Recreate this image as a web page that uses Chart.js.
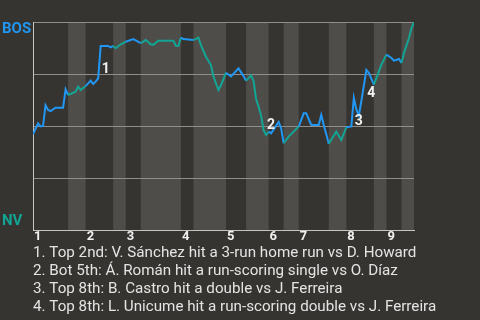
<!DOCTYPE html>
<html>
<head>
<meta charset="utf-8">
<script src="https://cdn.jsdelivr.net/npm/chart.js@4.4.0/dist/chart.umd.min.js"></script>
<style>
  html, body { margin: 0; padding: 0; background: #363430; }
  canvas { display: block; }
</style>
</head>
<body>
<canvas id="wpChart" width="480" height="320"></canvas>
<script>
// play number where each half inning starts: top 1st, bot 1st, top 2nd, ...
var halfInningStart = [0, 14, 21, 32, 37, 43, 59, 64, 77, 85, 94, 100, 106, 118, 125, 136, 141, 147];
var lastPlay = 152;
var inningLabels = ['1', '2', '3', '4', '5', '6', '7', '8', '9'];

// BOS win probability (%) after each play
var playIndex = [0, 2, 3, 4, 5, 6, 7, 9, 12, 13, 14, 17, 18, 19, 21, 23, 24, 25, 26, 27,
  30, 31, 32, 33, 35, 37, 40, 43, 45, 47, 48, 50, 56, 57, 58, 59, 60, 64, 66, 67,
  69, 71, 72, 74, 75, 77, 79, 82, 84, 85, 87, 88, 89, 90, 91, 92, 93, 94, 95, 98,
  99, 100, 102, 104, 106, 108, 109, 111, 114, 115, 116, 117, 118, 121, 123, 125, 127, 128, 129, 130,
  131, 133, 134, 136, 137, 139, 141, 143, 144, 146, 147, 148, 150, 151, 152];
var bosWinPct = [46, 51.3, 49.8, 50, 60, 57.7, 57.2, 58.8, 58.8, 67.6, 64.9, 66.5, 68.9, 67.3, 69.2, 71.8, 70.2, 71.3, 72.9, 88.5,
  88.5, 87.8, 88.5, 87.4, 89.3, 90.5, 91.8, 89.8, 91.3, 89.3, 89, 91, 91, 88.6, 88.5, 92.5, 91.8, 91.3, 92.5, 88.9,
  83.3, 79.3, 73.7, 67.3, 69.7, 75.6, 73.8, 77.7, 74, 71.8, 74.3, 71.6, 63, 59.3, 55, 48, 45.7, 47.3, 46.5, 52,
  48.9, 41.7, 44.9, 47.3, 49.7, 56.1, 56.1, 50.5, 50.5, 55.3, 50.5, 46, 41.5, 47.3, 43.3, 49.4, 49.8, 63.5, 58, 55,
  62, 77, 75.5, 69.9, 73, 79.5, 84.3, 82.7, 81.4, 82.2, 80.3, 85.1, 92.3, 97, 100];

var teamTop = 'BOS';
var teamBottom = 'NV';

// key plays marked on the line
var annotationPlay = [27, 93, 128, 133];
var annotationText = [
  '1. Top 2nd: V. Sánchez hit a 3-run home run vs D. Howard',
  '2. Bot 5th: Á. Román hit a run-scoring single vs O. Díaz',
  '3. Top 8th: B. Castro hit a double vs J. Ferreira',
  '4. Top 8th: L. Unicume hit a run-scoring double vs J. Ferreira'
];

var blue = '#2196f3';
var teal = '#12a594';

function halfOf(play) {
  var h = 0;
  for (var i = 0; i < halfInningStart.length; i++) {
    if (play >= halfInningStart[i]) h = i;
  }
  return h;
}

var inningStart = halfInningStart.filter(function (p, h) { return h % 2 === 0; });

// shaded bands for bottom halves
var bandData = halfInningStart.map(function (p, h) { return {x: p, y: h % 2 ? 100 : 0}; });
bandData.push({x: lastPlay, y: 0});

var lineData = playIndex.map(function (p, i) { return {x: p, y: bosWinPct[i]}; });

var playNumbers = {
  id: 'playNumbers',
  afterLayout: function (chart) {
    // let the play list run past the plot's right edge without squeezing
    chart.titleBlock.right = chart.width;
  },
  afterDatasetsDraw: function (chart) {
    var meta = chart.getDatasetMeta(1);
    var ctx = chart.ctx;
    ctx.save();
    ctx.font = 'bold 14px Roboto';
    ctx.fillStyle = '#f2f2f2';
    ctx.textAlign = 'center';
    ctx.textBaseline = 'middle';
    annotationPlay.forEach(function (play, k) {
      var i = playIndex.indexOf(play);
      var pt = meta.data[i];
      var rising = bosWinPct[i] > bosWinPct[i - 1];
      ctx.fillText(String(k + 1), pt.x + 5, pt.y + (rising ? 24 : -9));
    });
    ctx.restore();
  }
};

new Chart(document.getElementById('wpChart'), {
  type: 'line',
  data: {
    datasets: [{
      data: bandData,
      stepped: 'before',
      fill: 'origin',
      backgroundColor: '#4f4d4a',
      borderColor: 'rgba(0,0,0,0)',
      borderWidth: 0,
      pointRadius: 0
    }, {
      data: lineData,
      borderWidth: 2,
      pointRadius: 0,
      fill: false,
      tension: 0,
      borderColor: blue,
      segment: {
        borderColor: function (ctx) { return halfOf(playIndex[ctx.p0DataIndex]) % 2 ? teal : blue; }
      }
    }]
  },
  options: {
    responsive: false,
    animation: false,
    devicePixelRatio: 1,
    layout: {padding: {left: 2, right: 66, top: 22, bottom: 0}},
    plugins: {
      legend: {display: false},
      tooltip: {enabled: false},
      filler: {drawTime: 'beforeDraw'},
      title: {
        display: true,
        position: 'bottom',
        align: 'start',
        fullSize: false,
        text: annotationText,
        color: '#e4e4e4',
        font: {family: 'Roboto', size: 15.2, weight: 'normal', lineHeight: '18px'},
        padding: {top: 0, bottom: 4}
      }
    },
    scales: {
      x: {
        type: 'linear',
        min: 0,
        max: lastPlay,
        afterBuildTicks: function (axis) {
          axis.ticks = inningStart.map(function (v) { return {value: v}; });
        },
        ticks: {
          align: 'start',
          padding: 0,
          labelOffset: 1,
          autoSkip: false,
          maxRotation: 0,
          color: '#f0f0f0',
          font: {family: 'Roboto', weight: 'bold', size: 13, lineHeight: '14px'},
          callback: function (v, i) { return inningLabels[i]; }
        },
        grid: {display: false, drawTicks: false},
        border: {color: '#c4c4c4', width: 1}
      },
      y: {
        min: 0,
        max: 100,
        afterBuildTicks: function (axis) {
          axis.ticks = [0, 4, 25, 50, 75, 96.5, 100].map(function (v) { return {value: v}; });
        },
        afterFit: function (axis) { axis.width = 31; },
        ticks: {
          crossAlign: 'far',
          padding: 0,
          font: {family: 'Roboto', weight: 'bold', size: 15},
          color: function (c) { return c.tick.value > 50 ? blue : teal; },
          callback: function (v) { return v === 96.5 ? teamTop : (v === 4 ? teamBottom : ''); }
        },
        grid: {
          drawTicks: false,
          color: function (c) { return [25, 50, 75, 100].indexOf(c.tick.value) >= 0 ? '#8e8e8e' : 'rgba(0,0,0,0)'; }
        },
        border: {color: '#c4c4c4', width: 1}
      }
    }
  },
  plugins: [playNumbers]
});
</script>
</body>
</html>
